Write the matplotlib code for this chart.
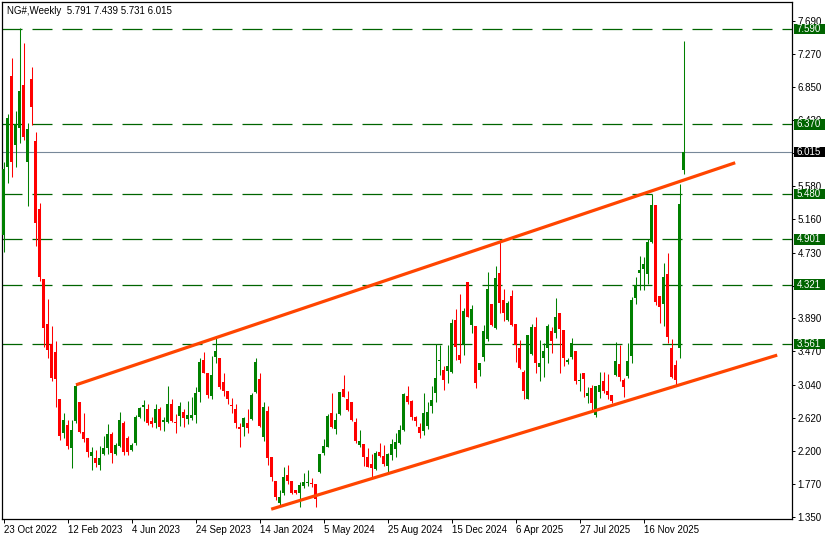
import matplotlib
matplotlib.use("Agg")
import matplotlib.pyplot as plt
import matplotlib.transforms as mtransforms
from matplotlib.patches import Rectangle
import pandas as pd

plt.rcParams['font.family'] = ['Liberation Sans', 'DejaVu Sans']

# weekly candles, first bar = week of 23 Oct 2022
start_date = "2022-10-23"

opens = [4.96, 5.83, 6.99, 6.11, 6.32, 6.87, 5.89, 6.95, 6.16, 5.29,
         4.39, 3.82, 3.56, 3.46, 2.86, 2.42, 2.53, 2.23, 2.58, 2.82,
         2.44, 2.36, 2.13, 2.10, 2.01, 2.16, 2.23, 2.41, 2.16, 2.26,
         2.55, 2.36, 2.21, 2.30, 2.63, 2.76, 2.73, 2.58, 2.55, 2.73,
         2.56, 2.56, 2.79, 2.57, 2.64, 2.69, 2.60, 2.62, 2.65, 2.95,
         3.36, 3.19, 2.90, 3.40, 3.38, 3.08, 2.96, 2.78, 2.73, 2.50,
         2.50, 2.55, 2.60, 2.95, 3.11, 2.37, 2.71, 2.12, 1.81, 1.53,
         1.66, 1.89, 1.81, 1.70, 1.66, 1.75, 1.78, 1.79, 1.77, 1.93,
         2.17, 2.25, 2.68, 2.48, 2.67, 2.99, 2.86, 2.82, 2.56, 2.27,
         2.28, 2.12, 2.03, 1.96, 2.18, 2.13, 2.00, 2.14, 2.22, 2.30,
         2.46, 2.90, 2.83, 2.63, 2.50, 2.45, 2.52, 2.77, 2.94, 3.34,
         3.23, 3.22, 3.20, 3.87, 3.42, 3.56, 4.36, 3.81, 3.79, 3.23,
         3.40, 3.63, 4.07, 3.77, 4.47, 4.12, 3.87, 4.18, 3.82, 3.51,
         3.20, 2.86, 3.43, 3.78, 3.27, 3.38, 3.51, 3.73, 3.70, 3.96,
         3.74, 3.33, 3.40, 3.47, 3.09, 3.19, 2.90, 3.00, 2.65, 2.95,
         3.09, 2.96, 2.91, 3.17, 3.31, 3.10, 3.15, 3.41, 4.15, 4.47,
         4.52, 4.46, 4.87, 5.34, 4.18, 4.07, 4.46, 3.51, 3.29, 3.51,
         5.791]
highs = [5.89, 6.50, 7.22, 6.54, 7.60, 7.41, 6.39, 7.10, 6.27, 5.37,
         4.39, 4.14, 3.79, 3.60, 2.86, 2.68, 2.59, 2.59, 3.05, 2.82,
         2.68, 2.36, 2.25, 2.21, 2.26, 2.39, 2.54, 2.44, 2.30, 2.69,
         2.58, 2.39, 2.30, 2.65, 2.76, 2.85, 2.79, 2.63, 2.79, 2.76,
         2.63, 3.03, 2.86, 2.67, 2.82, 2.73, 2.83, 2.88, 3.01, 3.38,
         3.46, 3.19, 3.41, 3.65, 3.38, 3.19, 2.96, 2.87, 2.79, 2.55,
         2.63, 2.73, 2.94, 3.38, 3.19, 2.82, 2.77, 2.12, 1.81, 1.70,
         1.99, 2.01, 1.81, 1.70, 1.80, 1.91, 1.95, 1.85, 1.77, 2.16,
         2.35, 2.67, 2.94, 2.68, 2.95, 3.17, 2.96, 2.82, 2.62, 2.46,
         2.28, 2.23, 2.16, 2.19, 2.30, 2.27, 2.17, 2.35, 2.42, 2.53,
         2.94, 3.03, 2.85, 2.64, 2.55, 2.94, 2.82, 3.03, 3.56, 3.55,
         3.28, 3.55, 3.88, 4.01, 4.20, 4.02, 4.36, 4.06, 3.79, 3.32,
         3.81, 4.48, 4.07, 4.56, 4.89, 4.27, 4.11, 4.25, 3.82, 3.61,
         3.23, 3.68, 3.82, 3.91, 3.61, 3.57, 3.82, 3.78, 4.15, 3.96,
         3.74, 3.38, 3.64, 3.47, 3.19, 3.19, 3.01, 3.04, 3.03, 3.20,
         3.20, 3.18, 2.91, 3.59, 3.55, 3.13, 3.57, 4.16, 4.42, 4.69,
         4.67, 4.91, 5.48, 5.34, 4.18, 4.60, 4.73, 3.63, 3.36, 5.61,
         7.439]
lows = [4.74, 5.62, 5.70, 5.83, 6.13, 6.17, 5.33, 6.36, 4.82, 4.37,
        3.52, 3.38, 3.09, 2.76, 2.33, 2.36, 2.22, 1.98, 2.55, 2.42,
        2.31, 2.12, 1.95, 1.99, 1.95, 2.14, 2.16, 2.04, 2.14, 2.25,
        2.14, 2.14, 2.20, 2.27, 2.62, 2.58, 2.53, 2.50, 2.49, 2.46,
        2.45, 2.55, 2.56, 2.42, 2.51, 2.50, 2.54, 2.59, 2.55, 2.82,
        3.19, 2.87, 2.86, 3.32, 2.99, 2.90, 2.79, 2.68, 2.49, 2.25,
        2.39, 2.42, 2.59, 2.94, 2.50, 2.32, 2.01, 1.81, 1.57, 1.49,
        1.63, 1.77, 1.64, 1.64, 1.48, 1.72, 1.75, 1.73, 1.48, 1.91,
        2.14, 2.25, 2.49, 2.41, 2.65, 2.88, 2.71, 2.58, 2.30, 2.25,
        2.00, 1.99, 1.86, 1.95, 2.12, 2.00, 1.91, 2.08, 2.12, 2.28,
        2.45, 2.79, 2.59, 2.52, 2.36, 2.40, 2.48, 2.68, 2.82, 3.17,
        2.97, 3.06, 3.19, 3.36, 3.32, 3.42, 3.91, 3.70, 3.00, 3.15,
        3.34, 3.60, 3.79, 3.75, 3.96, 3.86, 3.86, 3.79, 3.33, 3.24,
        2.86, 2.86, 3.42, 3.19, 3.09, 3.14, 3.32, 3.45, 3.64, 3.19,
        3.28, 3.31, 3.37, 3.05, 2.96, 2.88, 2.81, 2.72, 2.63, 2.87,
        2.94, 2.86, 2.81, 3.15, 3.09, 2.88, 3.13, 3.32, 4.07, 4.25,
        4.25, 4.33, 4.85, 4.06, 3.83, 3.79, 3.57, 3.13, 3.04, 3.38,
        5.731]
closes = [5.80, 6.45, 5.89, 6.38, 6.80, 6.21, 6.31, 6.59, 5.11, 4.42,
          3.77, 3.49, 3.13, 3.11, 2.39, 2.59, 2.26, 2.46, 3.03, 2.44,
          2.35, 2.18, 2.18, 2.04, 2.10, 2.23, 2.41, 2.17, 2.27, 2.59,
          2.18, 2.18, 2.27, 2.63, 2.74, 2.78, 2.55, 2.54, 2.73, 2.50,
          2.59, 2.79, 2.58, 2.55, 2.77, 2.62, 2.65, 2.65, 2.94, 3.33,
          3.19, 2.91, 3.17, 3.47, 3.01, 2.96, 2.86, 2.77, 2.55, 2.48,
          2.62, 2.49, 2.91, 3.33, 2.51, 2.76, 2.10, 1.86, 1.61, 1.61,
          1.86, 1.81, 1.66, 1.66, 1.76, 1.80, 1.80, 1.77, 1.58, 2.16,
          2.26, 2.64, 2.50, 2.59, 2.95, 2.88, 2.72, 2.59, 2.32, 2.32,
          2.12, 1.99, 1.98, 2.17, 2.13, 2.03, 2.16, 2.28, 2.31, 2.46,
          2.92, 2.82, 2.63, 2.58, 2.42, 2.68, 2.69, 2.85, 3.13, 3.36,
          3.10, 3.28, 3.83, 3.52, 3.36, 3.98, 3.91, 4.01, 3.06, 3.32,
          3.73, 4.27, 3.80, 4.41, 4.09, 3.96, 4.09, 3.80, 3.55, 3.26,
          2.96, 3.68, 3.78, 3.32, 3.32, 3.47, 3.79, 3.60, 3.91, 3.75,
          3.38, 3.36, 3.57, 3.09, 3.10, 3.11, 2.94, 2.81, 3.03, 3.04,
          2.96, 2.91, 2.83, 3.35, 3.14, 3.01, 3.34, 4.12, 4.32, 4.51,
          4.59, 4.87, 5.34, 4.10, 4.04, 4.42, 3.65, 3.14, 3.10, 5.35,
          6.015]

levels = [7.590, 6.370, 5.480, 4.901, 4.321, 3.561]
last_price = 6.015
# scale ticks (6.010 and 4.310 sit fully under the level boxes)
price_ticks = [7.690, 7.270, 6.850, 6.430, 5.580, 5.160, 4.730,
               3.890, 3.470, 3.040, 2.620, 2.200, 1.770, 1.350]
hidden_ticks = [6.010, 4.310]

# channel lines (bar index, price)
upper_x = [18.1, 182.9]
upper_y = [3.04, 5.88]
lower_x = [66.9, 193.4]
lower_y = [1.45, 3.42]

bull = '#008000'
bear = '#ff0000'
lvl_green = '#006400'
fs = 7

n = len(closes)
dates = pd.date_range(start_date, periods=n, freq='7D')
x = list(range(n))

fig = plt.figure(figsize=(8.32, 5.40), dpi=100)
ax = fig.add_axes([2 / 832, 21 / 540, 790 / 832, 517 / 540])

ax.set_xlim(-0.4, 197.1)
ax.set_ylim(1.3244, 7.9357)

# levels and current price
for lv in levels:
    ax.axhline(lv, color=lvl_green, lw=0.9, ls=(0, (16, 8)), zorder=1)
ax.axhline(last_price, color='#778899', lw=0.8, zorder=1)

# candles
cols = [bull if c >= o else bear for o, c in zip(opens, closes)]
bottoms = [min(o, c) for o, c in zip(opens, closes)]
heights = [max(abs(c - o), 0.014) for o, c in zip(opens, closes)]
ax.vlines(x, lows, highs, colors=cols, lw=0.75, zorder=2)
ax.bar(x, heights, bottom=bottoms, width=0.72, color=cols, linewidth=0, zorder=3)

# channel
ax.plot(upper_x, upper_y, color='#ff4500', lw=2.3, solid_capstyle='butt', zorder=4)
ax.plot(lower_x, lower_y, color='#ff4500', lw=2.3, solid_capstyle='butt', zorder=4)

# axes styling
for s in ax.spines.values():
    s.set_color('black')
    s.set_linewidth(0.9)
ax.yaxis.tick_right()
ax.set_yticks(price_ticks)
ax.set_yticklabels([f"{p:.3f}" for p in price_ticks])
ax.set_yticks(hidden_ticks, minor=True)
ax.tick_params(axis='y', which='both', length=2.5, width=0.7, pad=1.5,
               labelsize=fs, colors='black')

tick_idx = list(range(0, n, 16))
ax.set_xticks(tick_idx)
ax.set_xticklabels([f"{dates[i].day} {dates[i].strftime('%b %Y')}" for i in tick_idx])
ax.tick_params(axis='x', length=3, width=0.7, pad=1.5, labelsize=fs, colors='black')
for lbl in ax.get_xticklabels():
    lbl.set_horizontalalignment('left')

# price labels on the right scale
trans = mtransforms.blended_transform_factory(ax.transAxes, ax.transData)
box_h = 0.135
for lv, fc in [(v, lvl_green) for v in levels] + [(last_price, 'black')]:
    ax.add_patch(Rectangle((1.0025, lv - box_h / 2), 0.0395, box_h, transform=trans,
                           facecolor=fc, edgecolor='none', clip_on=False, zorder=10))
    ax.text(1.0063, lv, f"{lv:.3f}", transform=trans, color='white', fontsize=fs,
            ha='left', va='center', clip_on=False, zorder=11)

fig.text(7 / 832, 1 - 11 / 540, "NG#,Weekly  5.791 7.439 5.731 6.015",
         fontsize=fs, ha='left', va='center', color='black')

fig.savefig("out.png", dpi=100)
